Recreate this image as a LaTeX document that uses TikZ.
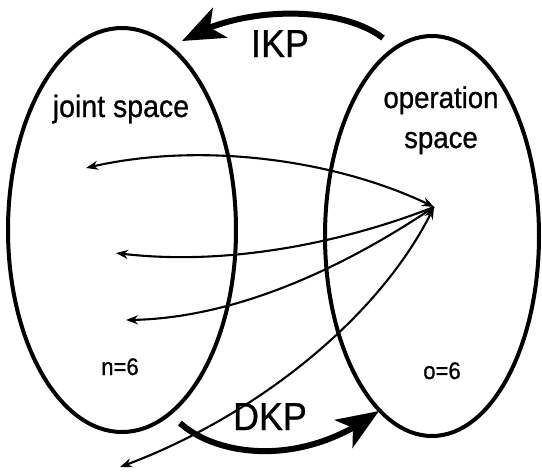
\documentclass[tikz,border=0pt]{standalone}
\usepackage{fontspec}
\setmainfont[FakeStretch=0.92,FakeBold=0.8]{Liberation Sans}
\usetikzlibrary{arrows.meta,bending,shapes.geometric}
\begin{document}
\begin{tikzpicture}[x=1pt,y=-1pt,
  ell/.style={draw, ellipse, line width=4pt, inner sep=0pt},
  thinarr/.style={line width=2.1pt, -{Stealth[length=12pt,width=9pt]}},
  dblarr/.style={line width=2.1pt, {Stealth[length=12pt,width=9pt]}-{Stealth[length=12pt,width=9pt]}},
  bigarr/.style={line width=6pt, -{Stealth[length=42pt,width=33pt,inset=11pt]}},
  lbl/.style={inner sep=0pt, anchor=base}]
\useasboundingbox (0,0) rectangle (542,472);
% ellipses
\node[ell, minimum width=228pt, minimum height=404pt] (js) at (122,230) {};
\node[ell, minimum width=214pt, minimum height=400pt] (os) at (432,236) {};
% labels
\node[lbl, font=\fontsize{31}{31}\selectfont] (jl) at (121,117) {joint space};
\node[lbl, font=\fontsize{30}{30}\selectfont] (ol1) at (441,108) {operation};
\node[lbl, font=\fontsize{30}{30}\selectfont] (ol2) at (441,148) {space};
\node[lbl, font=\fontsize{24}{24}\selectfont] (nl) at (120,375) {n=6};
\node[lbl, font=\fontsize{24}{24}\selectfont] (ool) at (442,379) {o=6};
\node[lbl, font=\fontsize{39}{39}\selectfont] (ikp) at (280,57) {IKP};
\node[lbl, font=\fontsize{39}{39}\selectfont] (dkp) at (270,430) {DKP};
% points
\coordinate (P) at (434,207);
\coordinate (a1) at (86,168);
\coordinate (a2) at (116,253);
\coordinate (a3) at (126,320);
\coordinate (a4) at (120,467);
\coordinate (ikps) at (383,38);
\coordinate (ikpe) at (182,41);
\coordinate (dkps) at (180,423);
\coordinate (dkpe) at (379,411);
% thin arrows
\draw[dblarr] (P) .. controls (340,160) and (200,140) .. (a1);
\draw[thinarr] (P) .. controls (350,240) and (230,268) .. (a2);
\draw[thinarr] (P) .. controls (370,250) and (250,320) .. (a3);
\draw[dblarr] (a4) .. controls (250,420) and (380,320) .. (P);
% big arrows
\draw[bigarr] (ikps) .. controls (340,5) and (240,5) .. (ikpe);
\draw[bigarr] (dkps) .. controls (215,455) and (300,470) .. (dkpe);
\end{tikzpicture}
\end{document}
